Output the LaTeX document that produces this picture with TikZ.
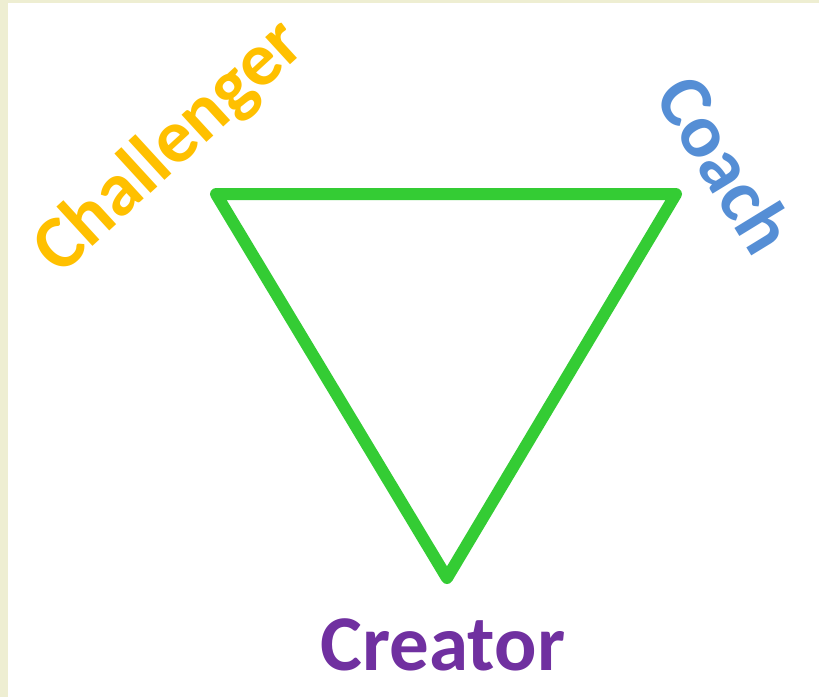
\documentclass[tikz,border=0pt]{standalone}
\usepackage{fontspec}
\setmainfont{Carlito}
\usetikzlibrary{positioning}

\definecolor{frame}{RGB}{238,238,210}
\definecolor{tri}{RGB}{52,204,52}
\definecolor{chall}{RGB}{255,192,0}
\definecolor{coach}{RGB}{85,142,213}
\definecolor{creat}{RGB}{112,48,160}

\begin{document}
\begin{tikzpicture}[x=1pt,y=-1pt,
  role/.style={font=\fontsize{#1}{80}\selectfont\bfseries,inner sep=0pt},
  role/.default=76]
\useasboundingbox (0,0) rectangle (819,697);
\fill[frame] (0,0) rectangle (819,697);
\fill[white] (8,3) rectangle (819,697);
% triangle
\coordinate (tl) at (216,194);
\coordinate (tr) at (676,194);
\coordinate (bot) at (447,578);
\draw[tri,line width=12pt,line join=round] (tl) -- (tr) -- (bot) -- cycle;
% roles
\node[role,text=chall,rotate=42.5] (challenger) at (170,148) {Challenger};
\node[role,text=coach,rotate=-58.5] (coachlbl) at (726,164) {Coach};
\node[role=79,text=creat] (creator) at (443,645) {Creator};
\end{tikzpicture}
\end{document}
